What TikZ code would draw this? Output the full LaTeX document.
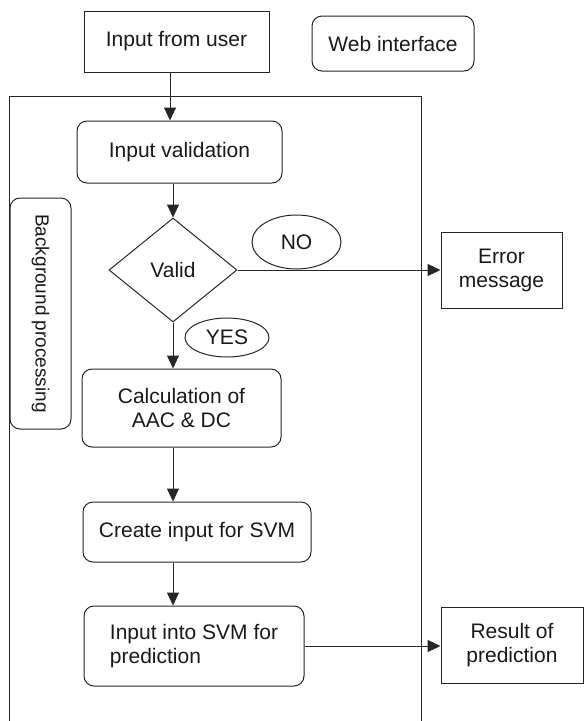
\documentclass[tikz,border=0pt]{standalone}
\usepackage{fontspec}
\setmainfont{Liberation Sans}
\usetikzlibrary{shapes.geometric,arrows.meta}
\begin{document}
\begin{tikzpicture}[x=1pt,y=-1pt,
  every node/.style={font=\fontsize{21}{24}\selectfont, inner sep=0pt, line width=1pt, draw=black!85, text=black!90},
  box/.style={draw, rectangle, align=center},
  rbox/.style={draw, rectangle, rounded corners=10pt, align=center},
  oval/.style={draw, ellipse},
  arr/.style={line width=1pt, draw=black!85, -{Triangle[length=13pt,width=12pt]}},
  frameline/.style={line width=1pt, draw=black!85},
]
\useasboundingbox (0,0) rectangle (584,721);
% container frame (open at the bottom)
\coordinate (fbl) at (9,721);
\coordinate (ftl) at (9,96);
\coordinate (ftr) at (421,96);
\coordinate (fbr) at (421,721);
\draw[frameline] (fbl) -- (ftl) -- (ftr) -- (fbr);

\node[box, minimum width=185pt, minimum height=61pt] (user) at (176.5,41.5) {Input from user};
\node[rbox, minimum width=162pt, minimum height=55pt] (web) at (393,43.5) {Web interface};
\node[rbox, minimum width=205pt, minimum height=62pt] (inval) at (179.5,152) {Input validation};
\node[draw, diamond, minimum width=128pt, minimum height=104pt] (dia) at (173,270) {Valid};
\node[oval, minimum width=89pt, minimum height=54pt] (no) at (296.5,242) {NO};
\node[box, minimum width=121pt, minimum height=76pt] (err) at (501.5,270) {Error\\message};
\node[oval, minimum width=84pt, minimum height=39pt] (yes) at (227,337.5) {YES};
\node[rbox, minimum width=199pt, minimum height=78pt] (calc) at (181.5,408) {Calculation of\\AAC \& DC};
\node[rbox, minimum width=228pt, minimum height=60pt] (create) at (197,532) {Create input for SVM};
\node[rbox, align=left, minimum width=220pt, minimum height=80pt] (svm) at (194,646) {Input into SVM for\\prediction};
\node[box, minimum width=142pt, minimum height=76pt] (res) at (512,645) {Result of\\prediction};
\node[rbox, rotate=-90, minimum width=231pt, minimum height=61pt, font=\fontsize{19}{22}\selectfont] (bg) at (40.5,313.5) {Background processing};

\coordinate (col) at (170,0);
\draw[arr] (user.south -| col) -- (inval.north -| col);
\draw[arr] (inval.south -| dia) -- (dia.north);
\draw[arr] (dia.south) -- (calc.north -| dia);
\draw[arr] (calc.south -| dia) -- (create.north -| dia);
\draw[arr] (create.south -| dia) -- (svm.north -| dia);
\draw[arr] (dia.east) -- (err.west);
\draw[arr] (svm.east) -- (svm.east -| res.west);
\end{tikzpicture}
\end{document}
